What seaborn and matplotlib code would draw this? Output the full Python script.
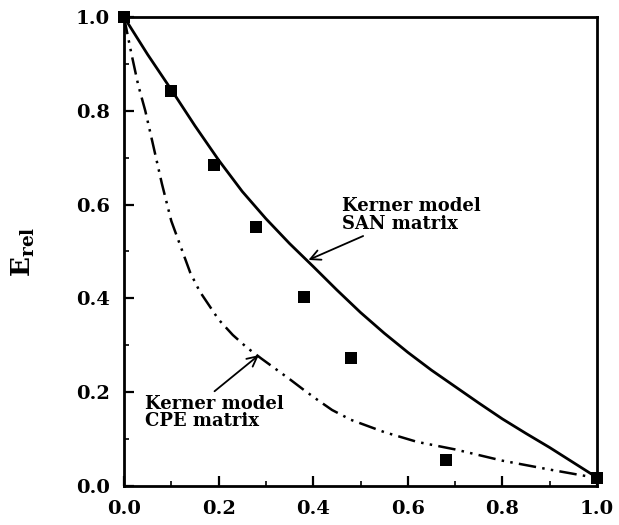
import matplotlib
matplotlib.use("Agg")
import matplotlib.pyplot as plt
from matplotlib.ticker import MultipleLocator, FormatStrFormatter
import pandas as pd
import seaborn as sns

# Measured relative modulus vs. volume fraction
phi_exp = [0.0, 0.10, 0.19, 0.28, 0.38, 0.48, 0.68, 1.0]
e_exp = [1.0, 0.842, 0.684, 0.552, 0.403, 0.273, 0.055, 0.017]

# Kerner model, SAN matrix
phi_san = [0.0, 0.05, 0.10, 0.15, 0.20, 0.25, 0.30, 0.35, 0.40, 0.45, 0.50,
           0.55, 0.60, 0.65, 0.70, 0.75, 0.80, 0.85, 0.90, 0.95, 1.0]
e_san = [1.0, 0.92, 0.845, 0.768, 0.695, 0.628, 0.57, 0.517, 0.468, 0.418, 0.37,
         0.326, 0.285, 0.247, 0.212, 0.177, 0.143, 0.112, 0.082, 0.05, 0.018]

# Kerner model, CPE matrix
phi_cpe = [0.0, 0.015, 0.03, 0.045, 0.06, 0.08, 0.10, 0.12, 0.14, 0.16, 0.18,
           0.20, 0.23, 0.26, 0.29, 0.32, 0.35, 0.38, 0.41, 0.44, 0.48, 0.55,
           0.62, 0.70, 0.80, 0.90, 1.0]
e_cpe = [1.0, 0.925, 0.855, 0.80, 0.734, 0.645, 0.565, 0.51, 0.455, 0.415, 0.385,
         0.355, 0.322, 0.295, 0.272, 0.25, 0.228, 0.205, 0.183, 0.162, 0.141, 0.115,
         0.094, 0.078, 0.054, 0.035, 0.017]

sns.set_theme(style="ticks")
plt.rcParams["font.family"] = ["DejaVu Serif"]
plt.rcParams["font.weight"] = "bold"
plt.rcParams["mathtext.fontset"] = "dejavuserif"
plt.rcParams["text.color"] = "black"
plt.rcParams["axes.labelcolor"] = "black"
plt.rcParams["xtick.color"] = "black"
plt.rcParams["ytick.color"] = "black"

fig = plt.figure(figsize=(6.19, 5.25), dpi=100)
ax = fig.add_axes([124 / 619, 39 / 525, 473 / 619, 469 / 525])

df_san = pd.DataFrame({"phi": phi_san, "E": e_san})
df_cpe = pd.DataFrame({"phi": phi_cpe, "E": e_cpe})
df_exp = pd.DataFrame({"phi": phi_exp, "E": e_exp})

sns.lineplot(data=df_san, x="phi", y="E", ax=ax, color="black", lw=2.0,
             sort=False, estimator=None)
sns.lineplot(data=df_cpe, x="phi", y="E", ax=ax, color="black", lw=1.8,
             sort=False, estimator=None, dashes=False,
             linestyle=(0, (7, 2.5, 1, 2.5, 1, 2.5)))
sns.scatterplot(data=df_exp, x="phi", y="E", ax=ax, color="black", marker="s",
                s=80, edgecolor="black", linewidth=0, zorder=5, clip_on=False)

ax.set_xlim(0, 1.0)
ax.set_ylim(0, 1.0)
ax.xaxis.set_major_locator(MultipleLocator(0.2))
ax.yaxis.set_major_locator(MultipleLocator(0.2))
ax.xaxis.set_minor_locator(MultipleLocator(0.1))
ax.yaxis.set_minor_locator(MultipleLocator(0.1))
ax.tick_params(which="major", direction="in", length=7, width=1.6,
               labelsize=14, pad=10, top=False, right=False, colors="black")
ax.tick_params(which="minor", direction="in", length=3.5, width=1.2,
               top=False, right=False, colors="black")
ax.xaxis.set_major_formatter(FormatStrFormatter("%.1f"))
ax.yaxis.set_major_formatter(FormatStrFormatter("%.1f"))
for lab in ax.get_xticklabels() + ax.get_yticklabels():
    lab.set_fontweight("bold")

for sp in ax.spines.values():
    sp.set_visible(True)
    sp.set_linewidth(2.0)
    sp.set_color("black")

ax.set_xlabel("")
ax.set_ylabel(r"$\mathbf{E}_{\mathbf{rel}}$", fontsize=19, labelpad=28,
              color="black")

ax.annotate("Kerner model\nSAN matrix", xy=(0.39, 0.482), xytext=(0.46, 0.54),
            fontsize=13, fontweight="bold", ha="left", va="bottom",
            linespacing=0.95, color="black",
            arrowprops=dict(arrowstyle="->", color="black", lw=1.3,
                            mutation_scale=18, shrinkA=0, shrinkB=0))
ax.annotate("Kerner model\nCPE matrix", xy=(0.285, 0.279), xytext=(0.045, 0.195),
            fontsize=13, fontweight="bold", ha="left", va="top",
            linespacing=0.95, color="black",
            arrowprops=dict(arrowstyle="->", color="black", lw=1.3,
                            mutation_scale=18, shrinkA=0, shrinkB=0,
                            relpos=(0.47, 1.0)))

fig.savefig("out.png", dpi=100)
